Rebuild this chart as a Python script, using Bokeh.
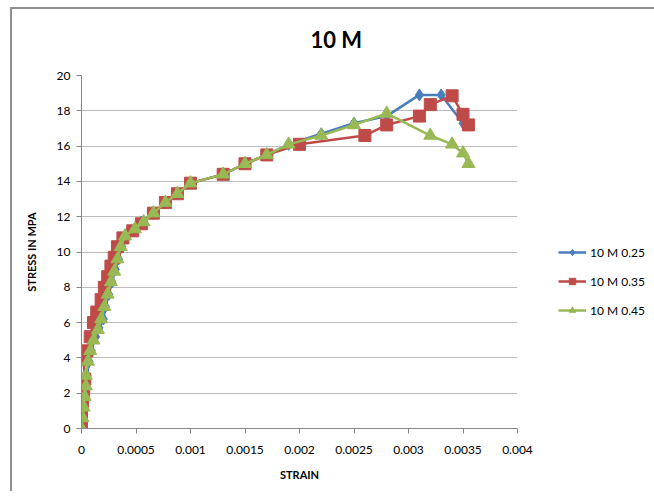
from bokeh.plotting import figure
from bokeh.models import Legend, LegendItem, Title, FixedTicker, Range1d
from bokeh.embed import file_html
from bokeh.resources import INLINE

# ---- data ----
strain_025 = [0, 0.00001, 0.00002, 0.00003, 0.00004, 0.00005, 0.00007, 0.00009, 0.00013, 0.00016,
              0.0002, 0.00022, 0.00025, 0.00028, 0.00031, 0.00034, 0.00037, 0.00042, 0.00049, 0.00055,
              0.00066, 0.00077, 0.00088, 0.001, 0.0013, 0.0015, 0.0017, 0.0019, 0.0022, 0.0025,
              0.0028, 0.0031, 0.0033, 0.0035]
stress_025 = [0, 0.5, 1.1, 1.7, 2.4, 3.0, 3.8, 4.4, 5.2, 5.7,
              6.2, 6.9, 7.6, 8.3, 9.0, 9.6, 10.3, 10.9, 11.2, 11.7,
              12.2, 12.8, 13.3, 13.9, 14.4, 15.0, 15.5, 16.1, 16.7, 17.3,
              17.7, 18.9, 18.9, 17.3]

strain_035 = [0, 0, 0.00001, 0.00002, 0.00003, 0.00002, 0.00005, 0.00008, 0.00011, 0.00014,
              0.00018, 0.00021, 0.00024, 0.00027, 0.0003, 0.00033, 0.00038, 0.00047, 0.00055, 0.00066,
              0.00077, 0.00088, 0.001, 0.0013, 0.0015, 0.0017, 0.002, 0.0026, 0.0028, 0.0031,
              0.0032, 0.0034, 0.0035, 0.00355]
stress_035 = [0, 0.7, 1.4, 2.1, 2.8, 3.9, 4.4, 5.2, 6.0, 6.6,
              7.3, 8.0, 8.6, 9.2, 9.7, 10.3, 10.8, 11.2, 11.6, 12.2,
              12.8, 13.3, 13.9, 14.4, 15.0, 15.5, 16.1, 16.6, 17.2, 17.7,
              18.35, 18.85, 17.8, 17.2]

strain_045 = [0, 0.00001, 0.00002, 0.00003, 0.00004, 0.00004, 0.00006, 0.00008, 0.00011, 0.00015,
              0.00018, 0.00021, 0.00024, 0.00027, 0.0003, 0.00033, 0.00036, 0.0004, 0.00049, 0.00057,
              0.00066, 0.00077, 0.00088, 0.001, 0.0013, 0.0015, 0.0017, 0.0019, 0.0022, 0.0025,
              0.0028, 0.0032, 0.0034, 0.0035, 0.00355]
stress_045 = [0, 0.6, 1.2, 1.8, 2.4, 3.0, 3.8, 4.4, 5.0, 5.6,
              6.2, 6.9, 7.6, 8.3, 8.9, 9.6, 10.3, 10.9, 11.3, 11.7,
              12.2, 12.8, 13.3, 13.9, 14.4, 15.0, 15.5, 16.1, 16.6, 17.2,
              17.85, 16.6, 16.1, 15.6, 15.0]

series_names = ["10 M 0.25", "10 M 0.35", "10 M 0.45"]
x_ticks = [0, 0.0005, 0.001, 0.0015, 0.002, 0.0025, 0.003, 0.0035, 0.004]
x_tick_labels = ["0", "0.0005", "0.001", "0.0015", "0.002", "0.0025", "0.003", "0.0035", "0.004"]
y_ticks = [0, 2, 4, 6, 8, 10, 12, 14, 16, 18, 20]

FONT = "Lato"

p = figure(frame_width=436, frame_height=353, output_backend="svg", toolbar_location=None,
           x_range=Range1d(0, 0.004), y_range=Range1d(0, 20),
           min_border_left=81, min_border_right=129, min_border_top=75, min_border_bottom=63)
p.outline_line_color = None
p.background_fill_color = "white"
p.border_fill_alpha = 0
# chart-area border (left and top edges), painted behind the transparent canvas
p.styles = {
    "background": ("linear-gradient(#8f8f8f, #8f8f8f) 10px 7px / 2px 100% no-repeat, "
                   "linear-gradient(#8f8f8f, #8f8f8f) 10px 7px / 100% 2px no-repeat, white"),
}

t = Title(text="10 M", align="left", text_font=FONT, text_font_size="22px",
          text_font_style="bold", text_color="#000000", offset=229, standoff=46)
p.add_layout(t, "above")

p.xgrid.grid_line_color = None
p.ygrid.grid_line_color = "#bdbdbd"
p.ygrid.grid_line_width = 1

for ax in (p.xaxis[0], p.yaxis[0]):
    ax.axis_line_color = "#868686"
    ax.major_tick_line_color = "#868686"
    ax.minor_tick_line_color = None
    ax.major_tick_out = 5
    ax.major_tick_in = 0
    ax.major_label_text_font = FONT
    ax.major_label_text_font_size = "12px"
    ax.major_label_text_color = "#000000"
    ax.axis_label_text_font = FONT
    ax.axis_label_text_font_size = "11px"
    ax.axis_label_text_font_style = "bold"
    ax.axis_label_text_color = "#000000"

p.xaxis.ticker = FixedTicker(ticks=x_ticks)
p.xaxis.major_label_overrides = {t_: l for t_, l in zip(x_ticks, x_tick_labels)}
p.xaxis.axis_label = "STRAIN"
p.xaxis.major_label_standoff = 12
p.xaxis.axis_label_standoff = 11
p.yaxis.ticker = FixedTicker(ticks=y_ticks)
p.yaxis.axis_label = "STRESS IN MPA"
p.yaxis.major_label_standoff = 6
p.yaxis.axis_label_standoff = 16

colors = ["#4A7EBB", "#BE4B48", "#98B954"]
markers = ["diamond", "square", "triangle"]
sizes = [12, 12, 13]
xs = [strain_025, strain_035, strain_045]
ys = [stress_025, stress_035, stress_045]

items = []
for name, c, m, s, x, y in zip(series_names, colors, markers, sizes, xs, ys):
    l = p.line(x, y, line_color=c, line_width=2.5)
    sc = p.scatter(x, y, marker=m, size=s, fill_color=c, line_color=c)
    items.append(LegendItem(label=name, renderers=[l, sc]))

legend = Legend(items=items, location=(41, 110), orientation="vertical",
                label_text_font=FONT, label_text_font_size="12px", label_text_color="#000000",
                glyph_width=28, glyph_height=16, label_height=16, spacing=13,
                label_standoff=4, padding=0, margin=0, border_line_color=None,
                background_fill_alpha=0)
p.add_layout(legend, "right")

open("out.html", "w").write(file_html(p, INLINE))
